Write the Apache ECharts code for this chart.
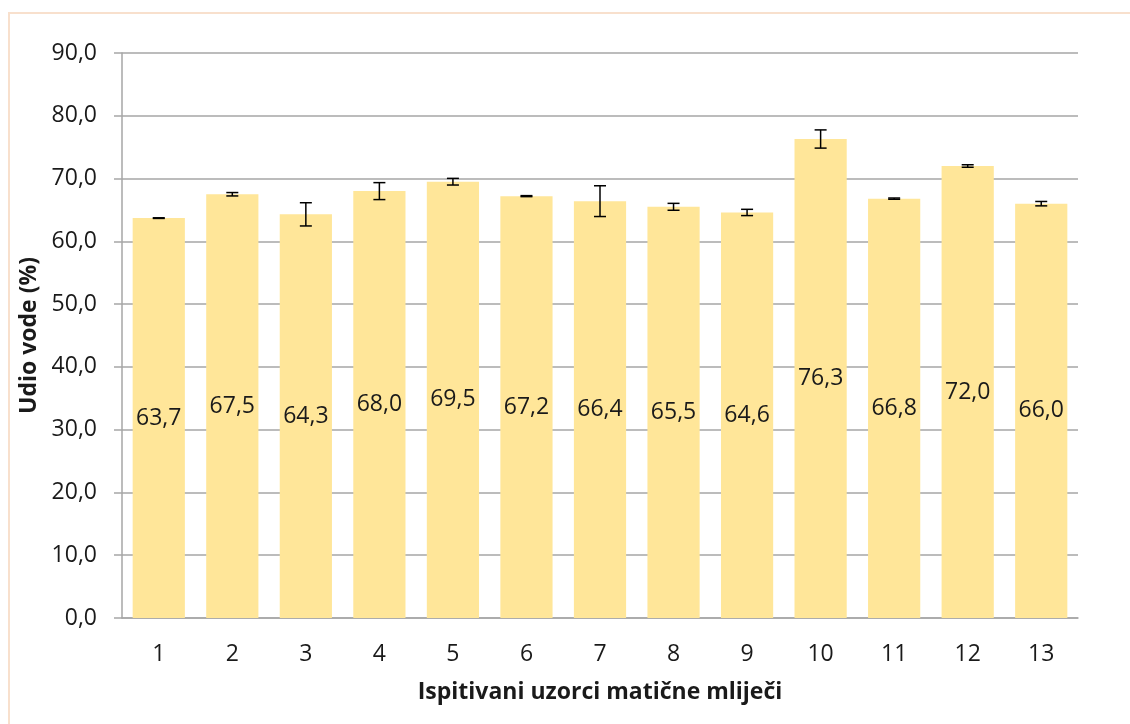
<!DOCTYPE html>
<html>
<head>
<meta charset="utf-8">
<script src="https://cdn.jsdelivr.net/npm/echarts@6/dist/echarts.min.js"></script>
<style>
  html, body { margin: 0; padding: 0; background: #fff; }
  #chart { width: 1130px; height: 724px; }
  .frame {
    position: absolute; left: 8px; top: 12px; width: 1200px; height: 800px;
    border-left: 2px solid #f8e0cd; border-top: 2px solid #f8e0cd;
    pointer-events: none;
  }
</style>
</head>
<body>
<div id="chart"></div>
<div class="frame"></div>
<script>
const categories = ['1', '2', '3', '4', '5', '6', '7', '8', '9', '10', '11', '12', '13']
const values = [63.7, 67.5, 64.3, 68.0, 69.5, 67.2, 66.4, 65.5, 64.6, 76.3, 66.8, 72.0, 66.0]
const errors = [0.05, 0.27, 1.85, 1.35, 0.53, 0.08, 2.45, 0.55, 0.5, 1.45, 0.1, 0.2, 0.35]

const fmt = (v) => v.toFixed(1).replace('.', ',')
const fontFamily = '"Open Sans", "Noto Sans", sans-serif'

const chart = echarts.init(document.getElementById('chart'))

chart.setOption({
  animation: false,
  textStyle: { fontFamily },
  grid: {
    left: 122,
    right: 52,
    top: 53,
    bottom: 106
  },
  xAxis: {
    type: 'category',
    data: categories,
    name: 'Ispitivani uzorci matične mliječi',
    nameLocation: 'middle',
    nameGap: 63,
    nameTextStyle: { color: '#1a1a1a', fontSize: 23, fontWeight: 'bold', fontFamily },
    axisLine: { lineStyle: { color: '#a6a6a6', width: 1.5 } },
    axisTick: { length: 8, lineStyle: { color: '#a6a6a6', width: 1.5 } },
    axisLabel: { color: '#1a1a1a', fontSize: 23, margin: 25, fontFamily }
  },
  yAxis: {
    type: 'value',
    min: 0,
    max: 90,
    interval: 10,
    name: 'Udio vode (%)',
    nameLocation: 'middle',
    nameGap: 78,
    nameRotate: 90,
    nameTextStyle: { color: '#1a1a1a', fontSize: 23, fontWeight: 'bold', fontFamily },
    axisLine: { show: true, lineStyle: { color: '#a6a6a6', width: 1.5 } },
    axisTick: { show: true, length: 8, lineStyle: { color: '#a6a6a6', width: 1.5 } },
    splitLine: { lineStyle: { color: '#a6a6a6', width: 1.5 } },
    axisLabel: { color: '#1a1a1a', fontSize: 23, margin: 25, fontFamily, formatter: (v) => fmt(v) }
  },
  series: [
    {
      type: 'bar',
      data: values,
      barWidth: '71%',
      itemStyle: { color: '#ffe699' },
      label: {
        show: true,
        position: 'inside',
        color: '#1a1a1a',
        fontSize: 23,
        fontFamily,
        formatter: (p) => fmt(p.value)
      }
    },
    {
      type: 'custom',
      data: values.map((v, i) => [i, v - errors[i], v + errors[i]]),
      z: 10,
      renderItem: (params, api) => {
        const i = api.value(0)
        const low = api.coord([i, api.value(1)])
        const high = api.coord([i, api.value(2)])
        const half = 6
        const style = { stroke: '#000', lineWidth: 1.5 }
        return {
          type: 'group',
          children: [
            { type: 'line', shape: { x1: high[0], y1: high[1], x2: low[0], y2: low[1] }, style },
            { type: 'line', shape: { x1: high[0] - half, y1: high[1], x2: high[0] + half, y2: high[1] }, style },
            { type: 'line', shape: { x1: low[0] - half, y1: low[1], x2: low[0] + half, y2: low[1] }, style }
          ]
        }
      }
    }
  ]
})
</script>
</body>
</html>
